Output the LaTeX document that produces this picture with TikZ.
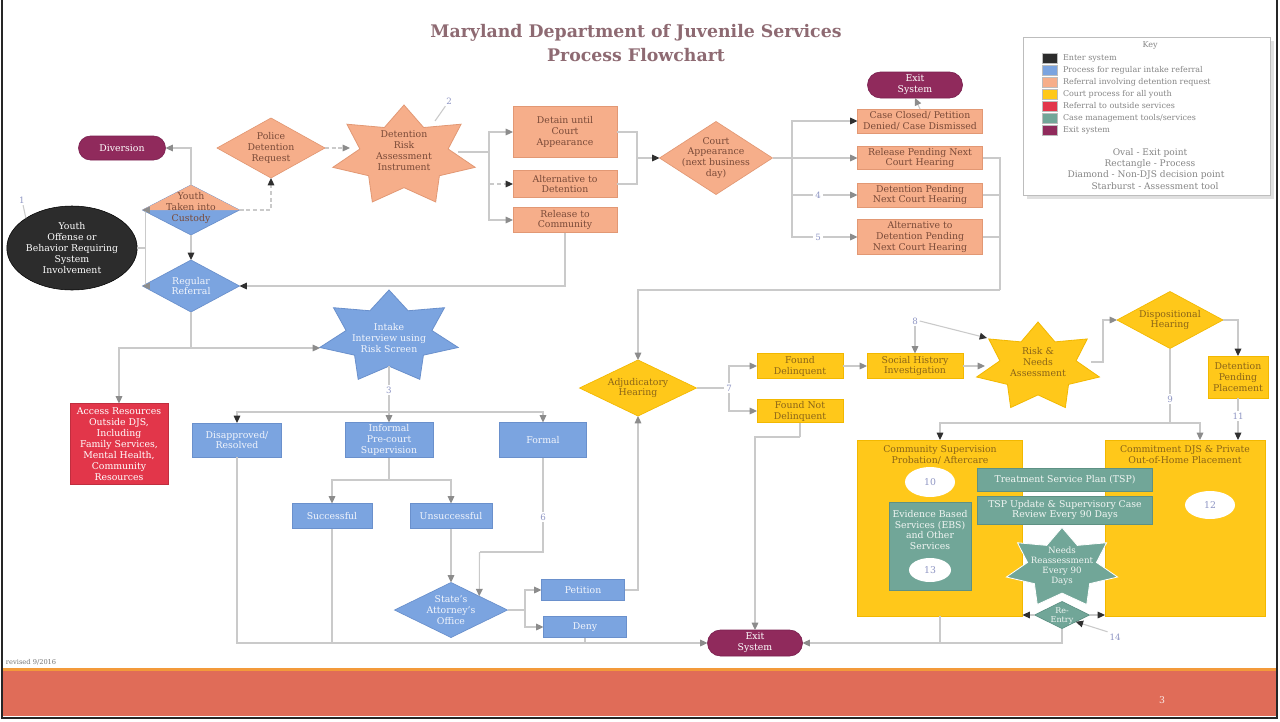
\documentclass[tikz,border=0pt]{standalone}
\usepackage{fontspec}
\setmainfont{DejaVu Serif}
\usetikzlibrary{shapes.geometric,shapes.misc,arrows.meta,calc}
\definecolor{orF}{HTML}{F6AE8A}
\definecolor{orD}{HTML}{E29874}
\definecolor{orT}{HTML}{7A4A38}
\definecolor{blF}{HTML}{7BA4E0}
\definecolor{blD}{HTML}{6A90CC}
\definecolor{blT}{HTML}{F2F5FC}
\definecolor{yeF}{HTML}{FFC81A}
\definecolor{yeD}{HTML}{F2B800}
\definecolor{yeT}{HTML}{8A6418}
\definecolor{teF}{HTML}{71A698}
\definecolor{teD}{HTML}{5E9184}
\definecolor{teT}{HTML}{F2F6F4}
\definecolor{reF}{HTML}{E2364A}
\definecolor{puF}{HTML}{902A5C}
\definecolor{puD}{HTML}{7A2050}
\definecolor{bkF}{HTML}{2C2C2C}
\definecolor{lnC}{HTML}{CACACA}
\definecolor{tipC}{HTML}{8C8C8C}
\definecolor{tipK}{HTML}{303030}
\definecolor{numC}{HTML}{8F96C4}
\definecolor{tiC}{HTML}{8E6A72}
\definecolor{keyD}{HTML}{BDBDBD}
\definecolor{keyT}{HTML}{858585}
\definecolor{footC}{HTML}{E06C58}
\definecolor{footL}{HTML}{F39A3A}
\newcommand{\nf}{\fontsize{7}{8.2}\selectfont}
\newcommand{\kf}{\fontsize{6}{7}\selectfont}
\newcommand{\drawstar}[6]{%
  \filldraw[fill=#5,draw=#6,line width=0.6pt] ({#1},{#2-#4})
    \foreach \k in {1,...,13}{ -- ({#1+#3*(1-0.38*mod(\k,2))*cos(-90+\k*360/14)},{#2+#4*(1-0.38*mod(\k,2))*sin(-90+\k*360/14)}) } -- cycle;}
\tikzset{
  every node/.style={font=\nf, align=center, inner sep=1pt, outer sep=0pt},
  wh/.style 2 args={minimum width=#1*0.75pt, minimum height=#2*0.75pt},
  ob/.style={rectangle, draw=orD, fill=orF, text=orT, line width=0.5pt},
  bb/.style={rectangle, draw=blD, fill=blF, text=blT, line width=0.5pt},
  yb/.style={rectangle, draw=yeD, fill=yeF, text=yeT, line width=0.5pt},
  tb/.style={rectangle, draw=teD, fill=teF, text=teT, line width=0.5pt},
  dia/.style={diamond, inner sep=0pt, line width=0.5pt},
  oval/.style={rounded rectangle, draw=puD, fill=puF, text=white, inner sep=0pt, line width=0.5pt},
  lbl/.style={inner sep=0pt},
  num/.style={text=numC, fill=white, inner sep=1.5pt, font=\fontsize{6.5}{7}\selectfont},
  conn/.style={draw=lnC, line width=0.8pt},
  arr/.style={conn, -{Triangle[length=5.5pt,width=5pt,color=tipC]}},
  arrk/.style={conn, -{Triangle[length=5.5pt,width=5pt,color=tipK]}},
  keyrow/.style={anchor=west, text=keyT, font=\kf, inner sep=0pt},
  sw/.style={wh={15}{10}, inner sep=0pt, draw=keyD, line width=0.3pt}
}
\begin{document}
\begin{tikzpicture}[x=0.75pt,y=-0.75pt]
\useasboundingbox (0,0) rectangle (1280,721);
\fill[white] (0,0) rectangle (1280,721);

% ---------- title ----------
\node[font=\fontsize{13}{18}\selectfont\bfseries, text=tiC] (title) at (636,43) {Maryland Department of Juvenile Services\\Process Flowchart};

% ---------- key ----------
\fill[black!12] (1027,41) rectangle (1274,199);
\node[draw=keyD, fill=white, line width=0.6pt, wh={247}{158}, inner sep=0pt] (key) at (1146.5,116) {};
\node[text=keyT, font=\kf] (keyT) at (1150,45) {Key};
\node[sw, fill=bkF] (k1) at (1050,58) {};
\node[sw, fill=blF] (k2) at (1050,70) {};
\node[sw, fill=orF] (k3) at (1050,82) {};
\node[sw, fill=yeF] (k4) at (1050,94) {};
\node[sw, fill=reF] (k5) at (1050,106) {};
\node[sw, fill=teF] (k6) at (1050,118) {};
\node[sw, fill=puF] (k7) at (1050,130) {};
\node[keyrow] (k1t) at (1063,58) {Enter system};
\node[keyrow] (k2t) at (1063,70) {Process for regular intake referral};
\node[keyrow] (k3t) at (1063,82) {Referral involving detention request};
\node[keyrow] (k4t) at (1063,94) {Court process for all youth};
\node[keyrow] (k5t) at (1063,106) {Referral to outside services};
\node[keyrow] (k6t) at (1063,118) {Case management tools/services};
\node[keyrow] (k7t) at (1063,130) {Exit system};
\node[text=keyT, font=\fontsize{6.8}{7.5}\selectfont] (ks1) at (1150,153) {Oval - Exit point};
\node[text=keyT, font=\fontsize{6.8}{7.5}\selectfont] (ks2) at (1150,164) {Rectangle - Process};
\node[text=keyT, font=\fontsize{6.8}{7.5}\selectfont] (ks3) at (1146,175) {Diamond - Non-DJS decision point};
\node[text=keyT, font=\fontsize{6.8}{7.5}\selectfont] (ks4) at (1155,186) {Starburst - Assessment tool};

% ---------- entry / detention section ----------
\node[ellipse, fill=bkF, draw=black, text=white, wh={106}{84}, inner sep=0pt] (youth) at (72,248) {Youth\\Offense or\\Behavior Requiring\\System\\Involvement};
\node[oval, wh={87}{24}] (divers) at (122,148) {Diversion};
\node[dia, draw=blD, fill=blF, wh={97}{50}] (cust) at (191,210) {};
\fill[orF] (cust.west) -- (cust.north) -- (cust.east) -- cycle;
\node[lbl, text=orT] (custT) at (191,208) {Youth\\Taken into\\Custody};
\node[dia, draw=orD, fill=orF, wh={108}{60}] (police) at (271,148) {};
\node[lbl, text=orT] (policeT) at (271,148) {Police\\Detention\\Request};
\drawstar{404}{156}{73}{51}{orF}{orD}
\node[lbl, text=orT, wh={108}{60}] (dstar) at (404,151) {Detention\\Risk\\Assessment\\Instrument};
\node[ob, wh={104}{51}] (detain) at (565,132) {Detain until\\Court\\Appearance};
\node[ob, wh={104}{27}] (atd) at (565,184) {Alternative to\\Detention};
\node[ob, wh={104}{25}] (rtc) at (565,220) {Release to\\Community};
\node[dia, draw=orD, fill=orF, wh={113}{73}] (court) at (716,158) {};
\node[lbl, text=orT] (courtT) at (716,158) {Court\\Appearance\\(next business\\day)};
\node[oval, wh={95}{26}] (exit1) at (915,85) {Exit\\System};
\node[ob, wh={125}{24}] (cc) at (920,121) {Case Closed/ Petition\\Denied/ Case Dismissed};
\node[ob, wh={125}{23}] (rp) at (920,158) {Release Pending Next\\Court Hearing};
\node[ob, wh={125}{24}] (dp) at (920,195) {Detention Pending\\Next Court Hearing};
\node[ob, wh={125}{35}] (ap) at (920,237) {Alternative to\\Detention Pending\\Next Court Hearing};

% ---------- intake section ----------
\node[dia, draw=blD, fill=blF, wh={97}{52}] (reg) at (191,286) {};
\node[lbl, text=blT] (regT) at (191,286) {Regular\\Referral};
\drawstar{389}{337}{71}{47}{blF}{blD}
\node[lbl, text=blT, wh={138}{56}] (istar) at (389,338) {Intake\\Interview using\\Risk Screen};
\node[rectangle, fill=reF, draw=reF!85!black, text=white, wh={98}{81}] (red) at (119,444) {Access Resources\\Outside DJS,\\Including\\Family Services,\\Mental Health,\\Community\\Resources};
\node[bb, wh={89}{34}] (disap) at (237,440) {Disapproved/\\Resolved};
\node[bb, wh={88}{35}] (inf) at (389,440) {Informal\\Pre-court\\Supervision};
\node[bb, wh={87}{35}] (formal) at (543,440) {Formal};
\node[bb, wh={80}{25}] (succ) at (332,516) {Successful};
\node[bb, wh={82}{25}] (unsucc) at (451,516) {Unsuccessful};
\node[dia, draw=blD, fill=blF, wh={113}{55}] (sao) at (451,610) {};
\node[lbl, text=blT] (saoT) at (451,610) {State's\\Attorney's\\Office};
\node[bb, wh={83}{21}] (pet) at (583,590) {Petition};
\node[bb, wh={83}{21}] (deny) at (585,627) {Deny};
\node[oval, wh={95}{26}] (exit2) at (755,643) {Exit\\System};

% ---------- court section ----------
\node[dia, draw=yeD, fill=yeF, wh={117}{56}] (adj) at (638,388) {};
\node[lbl, text=yeT] (adjT) at (638,388) {Adjudicatory\\Hearing};
\node[yb, wh={86}{25}] (fd) at (800,366) {Found\\Delinquent};
\node[yb, wh={86}{23}] (fnd) at (800,411) {Found Not\\Delinquent};
\node[yb, wh={96}{25}] (shi) at (915,366) {Social History\\Investigation};
\drawstar{1038}{367}{63}{45}{yeF}{yeD}
\node[lbl, text=yeT, wh={106}{50}] (rstar) at (1038,362) {Risk \&\\Needs\\Assessment};
\node[dia, draw=yeD, fill=yeF, wh={106}{57}] (disp) at (1170,320) {};
\node[lbl, text=yeT] (dispT) at (1170,320) {Dispositional\\Hearing};
\node[yb, wh={60}{42}] (dpp) at (1238,377) {Detention\\Pending\\Placement};
\node[yb, wh={165}{176}] (comm) at (940,528) {};
\node[lbl, text=yeT] (commT) at (940,455) {Community Supervision\\Probation/ Aftercare};
\node[yb, wh={160}{176}] (commit) at (1185,528) {};
\node[lbl, text=yeT] (commitT) at (1185,455) {Commitment DJS \& Private\\Out-of-Home Placement};
\node[ellipse, fill=white, text=numC, wh={50}{30}, inner sep=0pt] (e10) at (930,482) {10};
\node[ellipse, fill=white, text=numC, wh={50}{28}, inner sep=0pt] (e12) at (1210,505) {12};
\node[tb, wh={82}{88}] (ebs) at (930,546) {};
\node[lbl, text=teT] (ebsT) at (930,530) {Evidence Based\\Services (EBS)\\and Other\\Services};
\node[ellipse, fill=white, text=numC, wh={42}{24}, inner sep=0pt] (e13) at (930,570) {13};
\node[tb, wh={175}{23}] (tsp) at (1065,480) {Treatment Service Plan (TSP)};
\node[tb, wh={175}{28}] (tspu) at (1065,510) {TSP Update \& Supervisory Case\\Review Every 90 Days};
\node[dia, draw=teD, fill=teF, wh={55}{27}] (reentry) at (1062,615) {};
\drawstar{1062}{568}{57}{40.5}{teF}{white}
\node[lbl, text=teT, font=\fontsize{6.5}{7.6}\selectfont] (tstar) at (1062,566) {Needs\\Reassessment\\Every 90\\Days};
\node[lbl, text=teT, font=\fontsize{6}{6.6}\selectfont] (reentryT) at (1062,616) {Re-\\Entry};

% ---------- connectors ----------
\draw[arr] (youth.east) -- ++(8,0) |- (cust.west);
\draw[arr] (youth.east) -- ++(8,0) |- (reg.west);
\draw[arr] (cust.north) |- (divers.east);
\draw[arrk] (cust.south) -- (reg.north);
\draw[arrk, densely dashed] (cust.east) -| (police.south);
\draw[arr, densely dashed] (police.east) -- (police.east -| dstar.west);
\coordinate (t1) at (489,152);
\draw[conn] (dstar.east |- t1) -- (t1);
\draw[arr] (t1) |- (detain.west);
\draw[arrk, densely dashed] (t1) |- (atd.west);
\draw[arr] (t1) |- (rtc.west);
\draw[arrk] (rtc.south) |- (reg.east);
\coordinate (t2) at (637,158);
\draw[conn] (detain.east) -| (t2);
\draw[conn] (atd.east) -| (t2);
\draw[arrk] (t2) -- (court.west);
\coordinate (t3) at (792,158);
\draw[conn] (court.east) -- (t3);
\draw[arrk] (t3) |- (cc.west);
\draw[arr] (t3) |- (rp.west);
\draw[arr] (t3) |- (dp.west);
\draw[arr] (t3) |- (ap.west);
\draw[arr] (cc.north) -- (exit1.south);
\coordinate (t4) at (1000,290);
\draw[conn] (rp.east) -| (t4);
\draw[conn] (dp.east) -| (t4);
\draw[conn] (ap.east) -| (t4);
\draw[arr] (t4) -| (adj.north);
\coordinate (t5) at (191,348);
\draw[conn] (reg.south) -- (t5);
\draw[arr] (t5) -| (red.north);
\draw[arr] (t5) -- (t5 -| istar.west);
\coordinate (t6) at (389,412);
\draw[conn] (istar.south) -- (t6);
\draw[arrk] (t6) -| (disap.north);
\draw[arr] (t6) -- (inf.north);
\draw[arr] (t6) -| (formal.north);
\coordinate (t7) at (389,480);
\draw[conn] (inf.south) -- (t7);
\draw[arr] (t7) -| (succ.north);
\draw[arr] (t7) -| (unsucc.north);
\draw[arr] (unsucc.south) -- (sao.north);
\coordinate (t8) at (479.5,552);
\draw[conn] (formal.south) |- (t8);
\draw[arr] (t8) -- (sao.north east);
\coordinate (t9) at (525,610);
\draw[conn] (sao.east) -- (t9);
\draw[arr] (t9) |- (pet.west);
\draw[arr] (t9) |- (deny.west);
\draw[arr] (pet.east) -| (adj.south);
\draw[arr] (disap.south) |- (exit2.west);
\draw[conn] (succ.south) -- (succ.south |- exit2.west);
\draw[conn] (deny.south) -- (deny.south |- exit2.west);
\coordinate (t10) at (729,388);
\draw[conn] (adj.east) -- (t10);
\draw[arr] (t10) |- (fd.west);
\draw[arr] (t10) |- (fnd.west);
\draw[arr] (fd.east) -- (shi.west);
\draw[arr] (shi.east) -- (shi.east -| rstar.west);
\coordinate (t13) at (800,437);
\draw[conn] (fnd.south) -- (t13);
\draw[arr] (t13) -| (exit2.north);
\draw[arr] (rstar.east) -- ++(12,0) |- (disp.west);
\draw[arrk] (disp.east) -| (dpp.north);
\draw[arrk] (dpp.south) -- (dpp.south |- commit.north);
\coordinate (t12) at (1170,423);
\coordinate (cin) at (1200,440);
\draw[conn] (disp.south) -- (t12);
\draw[arrk] (t12) -| (comm.north);
\draw[arr] (t12) -| (cin);
\draw[arrk] (reentry.west) -- (reentry.west -| comm.east);
\draw[arrk] (reentry.east) -- (reentry.east -| commit.west);
\draw[arr] (reentry.south) |- (exit2.east);
\draw[conn] (comm.south) -- (comm.south |- exit2.east);

% ---------- step numbers ----------
\node[num] (n1) at (22,200) {1};
\node[num] (n2) at (449,101) {2};
\node[num] (n3) at (389,390) {3};
\node[num] (n4) at (818,195) {4};
\node[num] (n5) at (818,237) {5};
\node[num] (n6) at (543,517) {6};
\node[num] (n7) at (729,388) {7};
\node[num] (n8) at (915,321) {8};
\node[num] (n9) at (1170,399) {9};
\node[num] (n11) at (1238,416) {11};
\node[num] (n14) at (1115,637) {14};
\coordinate (rsul) at (987,338);
\draw[conn] (n1) -- (youth.north west);
\draw[conn] (n2) -- ++(-14,20);
\draw[arr] (n8) -- (shi.north);
\draw[arrk] (n8.east) -- (rsul);
\draw[arrk] (n14.north west) -- (reentry.south east);

% ---------- footer and frame ----------
\node[anchor=west, text=black!55, font=\fontsize{5}{6}\selectfont, inner sep=0pt] (rev) at (6,662) {revised 9/2016};
\fill[footC] (3,670) rectangle (1276,716);
\fill[footL] (3,668) rectangle (1276,671);
\node[text=white!85!footC, font=\fontsize{7}{8}\selectfont] (pg) at (1162,700) {3};
\draw[black!85, line width=2pt] (2,0) -- (2,718) -- (1277,718) -- (1277,0);
\end{tikzpicture}
\end{document}
